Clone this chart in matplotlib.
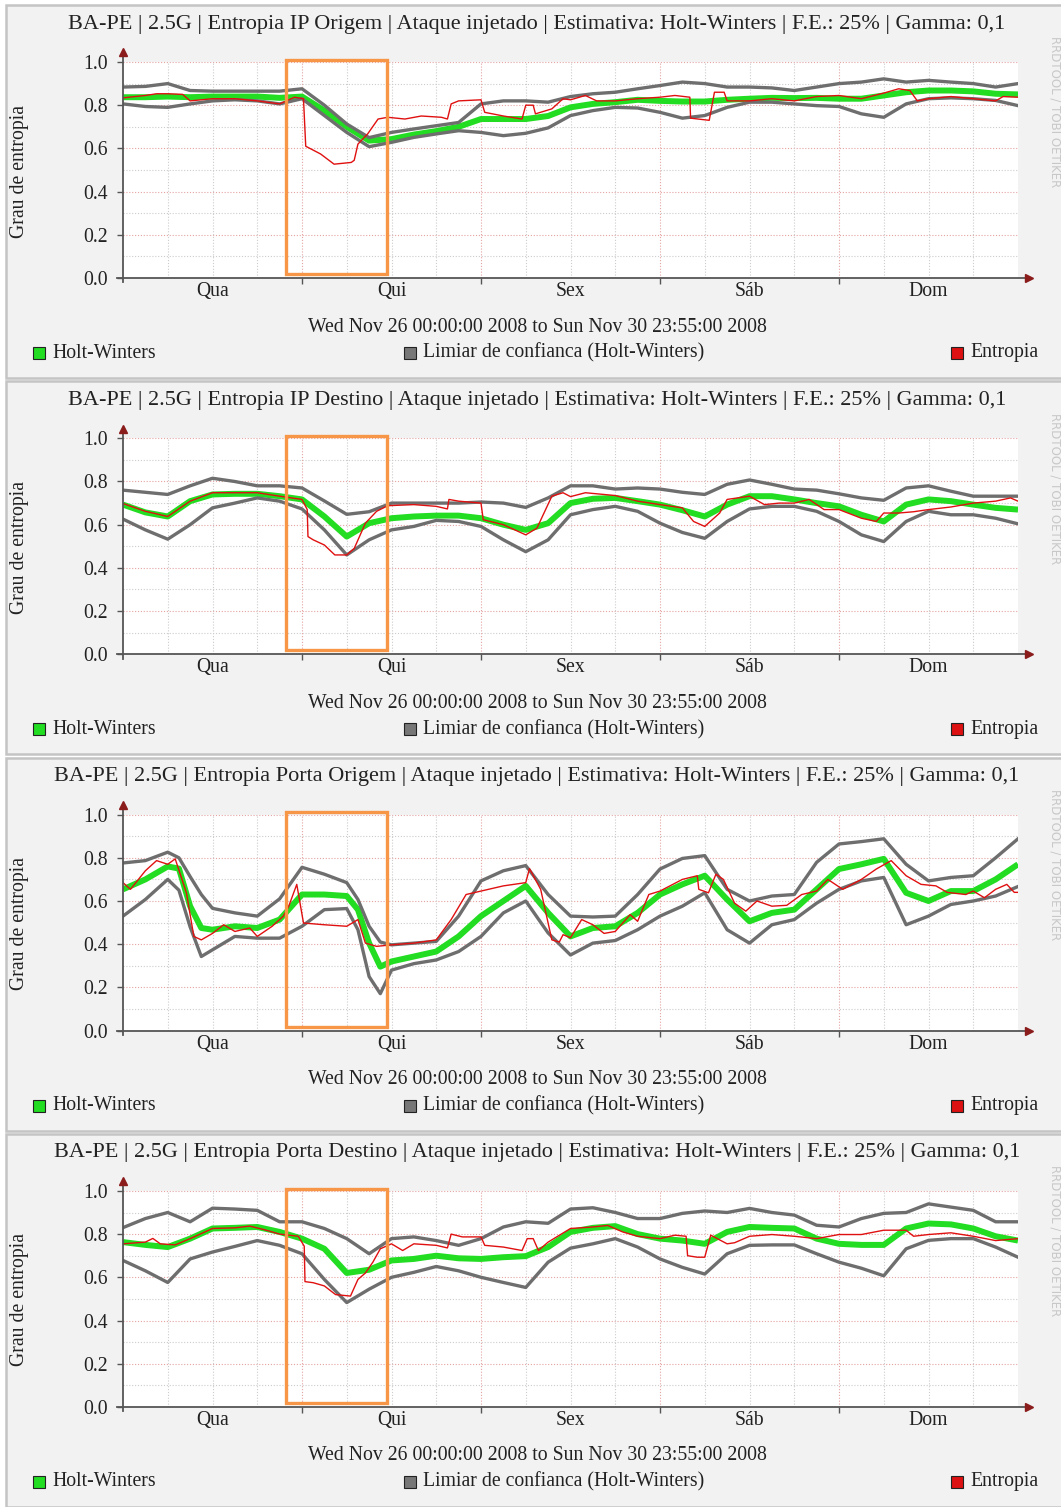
import numpy as np
import matplotlib
matplotlib.use('Agg')
import matplotlib.pyplot as plt
from matplotlib.patches import Rectangle

plt.rcParams['font.family'] = ['Liberation Serif', 'DejaVu Serif']

# horas desde Wed Nov 26 00:00 (5 dias)
band_h = list(range(0, 121, 3))
band3_h = [0, 3, 6, 7.5, 9, 10.5, 12, 15, 18, 21, 24, 27, 30, 31.5, 33, 34.5, 36, 39, 42, 45, 48, 51, 54, 57, 60,
           63, 66, 69, 72, 75, 78, 81, 84, 87, 90, 93, 96, 99, 102, 105, 108, 111, 114, 117, 120]

dias = ['Qua', 'Qui', 'Sex', 'Sáb', 'Dom']
titulos = [
    'BA-PE | 2.5G | Entropia IP Origem | Ataque injetado | Estimativa: Holt-Winters | F.E.: 25% | Gamma: 0,1',
    'BA-PE | 2.5G | Entropia IP Destino | Ataque injetado | Estimativa: Holt-Winters | F.E.: 25% | Gamma: 0,1',
    'BA-PE | 2.5G | Entropia Porta Origem | Ataque injetado | Estimativa: Holt-Winters | F.E.: 25% | Gamma: 0,1',
    'BA-PE | 2.5G | Entropia Porta Destino | Ataque injetado | Estimativa: Holt-Winters | F.E.: 25% | Gamma: 0,1',
]

# painel 1 - IP origem
upper1 = [0.884, 0.887, 0.90, 0.868, 0.865, 0.865, 0.865, 0.865, 0.876, 0.80, 0.713, 0.65, 0.674, 0.69, 0.705,
          0.72, 0.806, 0.82, 0.82, 0.814, 0.84,
          0.853, 0.86, 0.876, 0.891, 0.907, 0.90, 0.884, 0.884, 0.88, 0.868, 0.884, 0.90, 0.907, 0.922, 0.907,
          0.915, 0.907, 0.90, 0.884, 0.90]
hw1 = [0.837, 0.837, 0.84, 0.837, 0.84, 0.84, 0.84, 0.834, 0.84, 0.775, 0.70, 0.636, 0.643, 0.664, 0.68,
       0.70, 0.736, 0.736, 0.736, 0.75, 0.79,
       0.806, 0.814, 0.825, 0.82, 0.817, 0.817, 0.825, 0.83, 0.834, 0.833, 0.834, 0.83, 0.83, 0.845, 0.86,
       0.868, 0.868, 0.864, 0.853, 0.85]
lower1 = [0.806, 0.794, 0.79, 0.806, 0.82, 0.825, 0.82, 0.806, 0.83, 0.752, 0.674, 0.608, 0.628, 0.651, 0.667,
          0.682, 0.674, 0.659, 0.67, 0.695, 0.752,
          0.775, 0.79, 0.787, 0.767, 0.74, 0.752, 0.79, 0.814, 0.814, 0.806, 0.798, 0.794, 0.76, 0.744, 0.806,
          0.83, 0.834, 0.83, 0.822, 0.798]
ent1_h = [0, 3, 4.5, 6, 8, 9, 12, 15, 18, 21, 23, 24.2, 24.5, 26.5, 28.3, 30.6, 31, 31.5, 32.8, 34.2, 35.5, 37.8,
          40, 42.7, 43.5, 44, 45, 48, 48.5, 51, 53.5, 54, 55, 55.3, 57.5, 59, 60, 62, 63.5, 66, 69, 72, 74, 76,
          76.1, 78.6, 79.3, 80.6, 81, 84, 87, 90, 93, 96, 99, 102, 104, 105.5, 106.5, 108, 111, 114, 117, 118, 120]
ent1 = [0.834, 0.845, 0.853, 0.853, 0.85, 0.82, 0.83, 0.83, 0.82, 0.806, 0.837, 0.83, 0.61, 0.574, 0.527, 0.535,
        0.545, 0.62, 0.667, 0.736, 0.744, 0.736, 0.75, 0.744, 0.736, 0.806, 0.82, 0.825, 0.767, 0.75, 0.736, 0.80,
        0.80, 0.76, 0.783, 0.83, 0.825, 0.845, 0.82, 0.82, 0.83, 0.837, 0.845, 0.837, 0.74, 0.73, 0.86, 0.86,
        0.82, 0.82, 0.83, 0.82, 0.84, 0.845, 0.83, 0.856, 0.876, 0.868, 0.82, 0.83, 0.84, 0.83, 0.82, 0.84, 0.837]

# painel 2 - IP destino
upper2 = [0.76, 0.75, 0.74, 0.78, 0.815, 0.80, 0.78, 0.78, 0.77, 0.71, 0.648, 0.66, 0.70, 0.70, 0.70,
          0.70, 0.705, 0.70, 0.68, 0.724, 0.78,
          0.78, 0.765, 0.77, 0.765, 0.75, 0.74, 0.787, 0.807, 0.787, 0.765, 0.76, 0.743, 0.724, 0.713, 0.77,
          0.78, 0.755, 0.732, 0.732, 0.732]
hw2 = [0.693, 0.657, 0.638, 0.709, 0.74, 0.743, 0.743, 0.732, 0.717, 0.638, 0.545, 0.607, 0.63, 0.638, 0.642,
       0.642, 0.63, 0.60, 0.576, 0.607, 0.70,
       0.72, 0.724, 0.709, 0.693, 0.667, 0.638, 0.693, 0.732, 0.732, 0.717, 0.70, 0.685, 0.646, 0.615, 0.693,
       0.717, 0.709, 0.693, 0.678, 0.67]
lower2 = [0.626, 0.576, 0.533, 0.60, 0.678, 0.70, 0.724, 0.709, 0.673, 0.576, 0.46, 0.53, 0.576, 0.592, 0.62,
          0.615, 0.592, 0.53, 0.475, 0.53, 0.646,
          0.67, 0.685, 0.662, 0.607, 0.564, 0.537, 0.615, 0.673, 0.685, 0.685, 0.662, 0.615, 0.553, 0.522, 0.615,
          0.662, 0.646, 0.646, 0.63, 0.604]
ent2_h = [0, 3, 6, 9, 12, 15, 18, 21, 24, 24.7, 24.8, 25.5, 27, 28.4, 30, 31, 32.5, 34, 35.5, 39, 42, 43.5, 43.7,
          45, 48, 48.3, 51, 54, 55.5, 57.5, 59, 60, 62, 66, 69, 72, 75, 76.5, 78, 80, 81, 84, 86, 88, 90, 92, 94,
          96, 99, 101, 102, 104, 106, 108, 111, 114, 117, 119, 120]
ent2 = [0.698, 0.662, 0.638, 0.709, 0.748, 0.748, 0.748, 0.732, 0.717, 0.67, 0.545, 0.53, 0.506, 0.46, 0.46,
        0.49, 0.607, 0.662, 0.688, 0.693, 0.685, 0.673, 0.717, 0.709, 0.70, 0.623, 0.60, 0.553, 0.584, 0.732,
        0.748, 0.73, 0.748, 0.735, 0.709, 0.693, 0.678, 0.615, 0.592, 0.654, 0.717, 0.732, 0.693, 0.70, 0.70,
        0.717, 0.67, 0.67, 0.63, 0.615, 0.654, 0.654, 0.66, 0.67, 0.682, 0.70, 0.709, 0.724, 0.709]

# painel 3 - porta origem
upper3 = [0.776, 0.787, 0.826, 0.80, 0.713, 0.63, 0.566, 0.545, 0.53, 0.61, 0.756, 0.724, 0.685, 0.607, 0.483,
          0.41, 0.397, 0.405, 0.413, 0.53, 0.693, 0.74, 0.764, 0.63, 0.53,
          0.526, 0.53, 0.63, 0.748, 0.797, 0.81, 0.654, 0.60, 0.623, 0.63, 0.779, 0.864, 0.875, 0.888, 0.77,
          0.693, 0.709, 0.717, 0.80, 0.888]
hw3 = [0.654, 0.70, 0.76, 0.75, 0.576, 0.475, 0.467, 0.483, 0.475, 0.514, 0.63, 0.63, 0.623, 0.56, 0.405,
       0.296, 0.32, 0.343, 0.366, 0.436, 0.53, 0.60, 0.67, 0.545, 0.436,
       0.475, 0.483, 0.545, 0.63, 0.677, 0.717, 0.607, 0.506, 0.545, 0.56, 0.654, 0.748, 0.77, 0.795, 0.638,
       0.60, 0.646, 0.646, 0.70, 0.77]
lower3 = [0.53, 0.607, 0.70, 0.65, 0.48, 0.343, 0.374, 0.436, 0.428, 0.428, 0.483, 0.56, 0.565, 0.467, 0.25,
          0.171, 0.28, 0.31, 0.327, 0.366, 0.436, 0.545, 0.60, 0.452, 0.35,
          0.405, 0.417, 0.467, 0.53, 0.576, 0.638, 0.467, 0.405, 0.49, 0.514, 0.59, 0.654, 0.693, 0.709, 0.49,
          0.53, 0.584, 0.60, 0.623, 0.667]
ent3_h = [0, 1, 3, 4.5, 6, 7, 8.5, 9.5, 10.5, 12, 13.5, 15, 17, 18, 20, 21.5, 22.2, 23.3, 24.2, 27, 30, 31.5,
          32.5, 34, 36, 39, 42, 44, 46, 48, 51, 54, 54.5, 56, 57.5, 58.5, 59, 60, 61.5, 63, 64.5, 66, 68, 69, 70.5,
          72, 75, 77, 77.2, 78.5, 79.5, 80.5, 82, 83.5, 85, 87, 89, 91, 93, 94.5, 96.5, 99, 101, 103, 105, 107,
          109, 110.5, 113, 114, 115.5, 117, 118.5, 119.5, 120]
ent3 = [0.685, 0.654, 0.74, 0.787, 0.77, 0.795, 0.638, 0.436, 0.42, 0.45, 0.49, 0.459, 0.475, 0.436, 0.483,
        0.53, 0.574, 0.677, 0.498, 0.49, 0.483, 0.514, 0.405, 0.39, 0.397, 0.405, 0.42, 0.514, 0.63, 0.646,
        0.67, 0.685, 0.75, 0.654, 0.42, 0.41, 0.444, 0.43, 0.514, 0.49, 0.45, 0.459, 0.537, 0.506, 0.63,
        0.646, 0.70, 0.717, 0.654, 0.638, 0.724, 0.70, 0.59, 0.553, 0.60, 0.576, 0.58, 0.63, 0.646, 0.70,
        0.654, 0.70, 0.748, 0.787, 0.717, 0.677, 0.67, 0.64, 0.63, 0.646, 0.615, 0.654, 0.677, 0.64, 0.64]

# painel 4 - porta destino
upper4 = [0.83, 0.872, 0.90, 0.857, 0.92, 0.916, 0.91, 0.857, 0.857, 0.826, 0.779, 0.709, 0.779, 0.787, 0.77,
          0.748, 0.779, 0.833, 0.857, 0.85, 0.916,
          0.922, 0.90, 0.872, 0.872, 0.896, 0.907, 0.90, 0.919, 0.90, 0.888, 0.841, 0.833, 0.872, 0.896, 0.90,
          0.94, 0.925, 0.91, 0.857, 0.857]
hw4 = [0.763, 0.75, 0.74, 0.779, 0.826, 0.829, 0.833, 0.81, 0.779, 0.732, 0.62, 0.635, 0.678, 0.685, 0.70,
       0.688, 0.685, 0.693, 0.698, 0.74, 0.81,
       0.829, 0.837, 0.80, 0.779, 0.77, 0.755, 0.81, 0.833, 0.829, 0.826, 0.779, 0.755, 0.75, 0.75, 0.826,
       0.849, 0.845, 0.826, 0.79, 0.77]
lower4 = [0.678, 0.63, 0.576, 0.685, 0.717, 0.743, 0.77, 0.748, 0.709, 0.59, 0.483, 0.545, 0.60, 0.623, 0.65,
          0.63, 0.60, 0.576, 0.553, 0.67, 0.735,
          0.755, 0.779, 0.74, 0.685, 0.646, 0.615, 0.709, 0.748, 0.75, 0.75, 0.709, 0.67, 0.642, 0.607, 0.732,
          0.771, 0.779, 0.779, 0.74, 0.693]
ent4_h = [0, 3, 4, 5, 7, 9, 12, 15, 17, 19, 21, 23.5, 24.3, 24.4, 25.5, 27, 28.5, 30.5, 31.5, 32.5, 33.5, 34.5,
          36, 37.5, 39, 42, 43.5, 44, 45.5, 48, 48.5, 51, 53.5, 54.2, 55, 55.7, 57, 60, 63, 65, 67, 69, 72, 74,
          75.5, 75.7, 77, 78, 78.8, 81, 82, 84, 87, 90, 93, 96, 99, 102, 105, 106, 108, 111, 114, 117, 120]
ent4 = [0.755, 0.763, 0.78, 0.755, 0.75, 0.779, 0.826, 0.829, 0.837, 0.82, 0.80, 0.79, 0.744, 0.58, 0.575,
        0.56, 0.52, 0.513, 0.59, 0.62, 0.67, 0.732, 0.755, 0.724, 0.755, 0.748, 0.736, 0.80, 0.787, 0.787,
        0.748, 0.74, 0.724, 0.779, 0.779, 0.724, 0.763, 0.826, 0.833, 0.84, 0.81, 0.79, 0.779, 0.795, 0.79,
        0.70, 0.693, 0.693, 0.795, 0.755, 0.76, 0.79, 0.798, 0.79, 0.779, 0.798, 0.798, 0.818, 0.818, 0.79,
        0.798, 0.806, 0.79, 0.77, 0.779]

# janela do ataque (horas)
ataque = (21.8, 35.4)

paineis = [
    (band_h, upper1, hw1, lower1, ent1_h, ent1),
    (band_h, upper2, hw2, lower2, ent2_h, ent2),
    (band3_h, upper3, hw3, lower3, ent3_h, ent3),
    (band_h, upper4, hw4, lower4, ent4_h, ent4),
]

C_HW = '#22dd22'
C_LIM = '#6e6e6e'
C_ENT = '#e01010'
C_ORANGE = '#F79646'
C_TXT = '#222222'
FS = 14.2

W, H = 1061, 1507
PH = 376.3
fig = plt.figure(figsize=(W / 100, H / 100), dpi=100, facecolor='white')

for k, (bh, up, hw, lo, eh, ent) in enumerate(paineis):
    off = k * PH

    def fy(py):
        return 1 - (py + off) / H

    # fundo do painel
    fig.add_artist(Rectangle((6 / W, fy(378)), (W - 5) / W, 373 / H, transform=fig.transFigure,
                             facecolor='#f2f2f2', edgecolor='#c4c4c4', lw=1.8, zorder=0))

    ax = fig.add_axes([123 / W, fy(278), 895 / W, 216 / H])
    ax.set_facecolor('white')
    ax.set_xlim(0, 120)
    ax.set_ylim(0, 1.0)
    for s in ax.spines.values():
        s.set_visible(False)

    # grade
    for v in np.arange(0.1, 1.01, 0.1):
        major = int(round(v * 10)) % 2 == 0
        ax.axhline(v, color='#e6a3a3' if major else '#cccccc', lw=0.8, ls=(0, (1, 1.6)), zorder=1)
    for h in range(6, 120, 6):
        major = h % 24 == 0
        ax.axvline(h, color='#e6a3a3' if major else '#cccccc', lw=0.8, ls=(0, (1, 1.6)), zorder=1)

    ax.plot(bh, hw, color=C_HW, lw=4.3, zorder=3, solid_capstyle='butt')
    ax.plot(bh, up, color=C_LIM, lw=2.4, zorder=4)
    ax.plot(bh, lo, color=C_LIM, lw=2.4, zorder=4)
    ax.plot(eh, ent, color=C_ENT, lw=1.0, zorder=5)

    # eixos com setas
    ax.plot([-0.8, 121.3], [0, 0], color='#555555', lw=1.3, clip_on=False, zorder=6)
    ax.plot([121.5], [0], marker='>', ms=6, color='#8b1c1c', clip_on=False, zorder=6)
    ax.plot([0, 0], [-0.02, 1.035], color='#555555', lw=1.3, clip_on=False, zorder=6)
    ax.plot([0], [1.045], marker='^', ms=6, color='#8b1c1c', clip_on=False, zorder=6)

    ax.set_yticks(np.arange(0, 1.01, 0.2))
    ax.set_yticklabels(['%.1f' % v for v in np.arange(0, 1.01, 0.2)])
    ax.tick_params(axis='y', length=4, width=1, color='#555555', labelsize=FS, labelcolor=C_TXT, pad=7)
    ax.set_xticks([24, 48, 72, 96])
    ax.set_xticklabels([])
    ax.set_xticks([12, 36, 60, 84, 108], minor=True)
    ax.set_xticklabels(dias, minor=True)
    ax.tick_params(axis='x', which='major', length=4, width=1, color='#555555')
    ax.tick_params(axis='x', which='minor', length=0, labelsize=FS, labelcolor=C_TXT, pad=3)

    # retangulo do ataque
    ax.add_patch(Rectangle((ataque[0], 0.018), ataque[1] - ataque[0], 0.992, fill=False,
                           edgecolor=C_ORANGE, lw=2.4, clip_on=False, zorder=7))

    fig.text(537 / W, fy(24), titulos[k], ha='center', va='center', fontsize=16, color=C_TXT)
    fig.text(20 / W, fy(171), 'Grau de entropia', rotation=90, ha='center', va='center',
             fontsize=FS, color=C_TXT)
    fig.text(537 / W, fy(327), 'Wed Nov 26 00:00:00 2008 to Sun Nov 30 23:55:00 2008',
             ha='center', va='center', fontsize=FS, color=C_TXT)

    # legenda
    for x0, cor, txt in [(33, C_HW, 'Holt-Winters'), (404, '#777777', 'Limiar de confianca (Holt-Winters)'),
                         (951, '#dd1111', 'Entropia')]:
        fig.add_artist(Rectangle((x0 / W, fy(359)), 12 / W, 12 / H, transform=fig.transFigure,
                                 facecolor=cor, edgecolor=C_TXT, lw=0.8))
        fig.text((x0 + 19) / W, fy(353), txt, ha='left', va='center', fontsize=FS, color=C_TXT)

    fig.text(1055 / W, fy(112), 'RRDTOOL / TOBI OETIKER', rotation=270, ha='center', va='center',
             fontsize=8.5, color='#c8c8c8', family='DejaVu Sans')

fig.savefig('out.png', dpi=100, facecolor=fig.get_facecolor())
